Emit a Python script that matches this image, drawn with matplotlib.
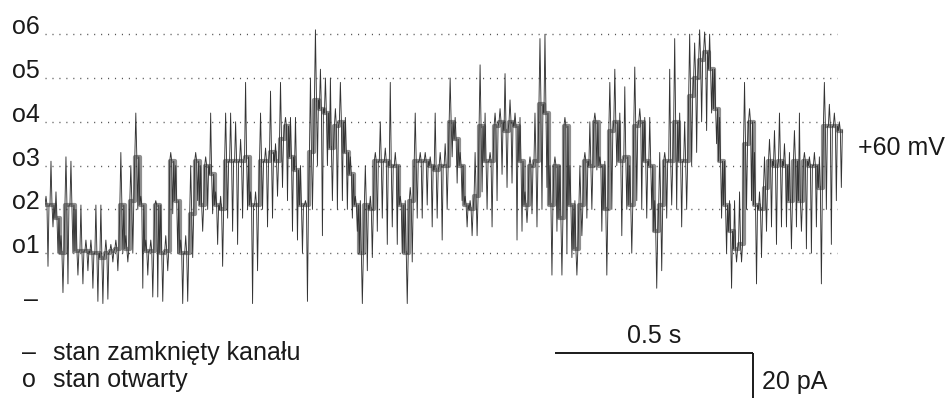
import matplotlib
matplotlib.use("Agg")
import matplotlib.pyplot as plt
import numpy as np

plt.rcParams["font.family"] = ["Liberation Sans", "DejaVu Sans"]

# digitised single-channel trace, one column every DT seconds
# level = dwell level (in unitary openings), hi / lo = excursion envelope in that column
DT = 0.0126
level = [2.1, 2.1, 1.8, 1.0, 2.1, 2.1, 1.05, 1.05, 1.05, 1.0,
         1.0, 0.9, 1.0, 1.05, 1.1, 2.1, 1.1, 2.2, 3.2, 2.1,
         1.05, 1.05, 2.1, 1.0, 1.05, 3.1, 2.2, 1.0, 1.0, 1.9,
         3.1, 2.1, 3.0, 2.8, 2.1, 2.0, 3.1, 3.1, 3.1, 3.1,
         3.2, 2.1, 2.1, 3.1, 3.1, 3.3, 3.1, 3.6, 3.9, 3.2,
         2.9, 2.1, 2.1, 3.3, 4.5, 4.3, 4.2, 3.4, 3.9, 4.0,
         3.3, 2.8, 2.1, 1.0, 2.1, 2.0, 3.1, 3.1, 3.1, 3.0,
         3.0, 2.1, 1.0, 2.2, 3.1, 3.1, 3.1, 3.0, 2.9, 3.0,
         3.0, 4.0, 3.6, 3.0, 2.1, 2.0, 2.3, 3.9, 3.1, 3.1,
         3.9, 4.0, 3.8, 4.0, 3.9, 3.1, 2.1, 3.0, 3.1, 4.4,
         4.2, 2.1, 3.0, 1.8, 3.9, 2.1, 1.1, 2.1, 3.1, 3.0,
         4.0, 3.0, 2.0, 3.8, 4.0, 3.1, 3.2, 2.1, 3.9, 4.0,
         3.1, 3.0, 1.5, 2.1, 3.1, 3.1, 4.0, 3.1, 3.1, 4.6,
         5.0, 5.4, 5.6, 5.2, 4.3, 3.1, 2.1, 1.5, 1.1, 1.2,
         3.5, 4.0, 2.1, 2.0, 2.5, 3.1, 3.0, 3.1, 3.0, 2.2,
         3.1, 2.2, 3.1, 3.0, 3.0, 2.5, 3.9, 3.9, 3.9, 3.8]
hi = [2.3, 3.1, 2.4, 1.4, 3.2, 3.1, 2.0, 2.1, 1.3, 1.3,
      2.1, 2.1, 1.3, 1.2, 1.3, 3.3, 1.4, 3.0, 4.2, 2.3,
      1.3, 1.3, 2.2, 2.1, 1.4, 3.3, 3.0, 1.3, 1.4, 3.0,
      3.3, 3.0, 3.2, 4.2, 2.4, 2.3, 4.2, 4.2, 4.0, 3.6,
      4.9, 2.4, 2.4, 4.2, 3.4, 4.7, 3.5, 4.9, 4.1, 4.1,
      4.1, 3.0, 2.2, 5.0, 6.1, 5.2, 5.0, 5.0, 4.3, 4.9,
      4.1, 3.2, 2.3, 2.2, 3.0, 2.3, 3.3, 4.0, 3.4, 4.9,
      3.3, 2.3, 2.2, 2.5, 4.2, 3.3, 3.3, 3.2, 4.2, 3.3,
      3.5, 5.0, 4.1, 3.3, 2.3, 2.2, 3.3, 5.3, 4.2, 3.3,
      4.2, 4.3, 5.1, 4.5, 4.2, 4.1, 2.4, 3.2, 4.2, 5.9,
      6.0, 3.0, 3.2, 3.0, 4.1, 3.0, 2.2, 3.0, 3.3, 4.0,
      4.2, 3.2, 3.1, 4.9, 5.2, 4.2, 4.8, 3.0, 5.25, 4.3,
      4.1, 4.1, 2.2, 3.3, 3.3, 5.2, 5.9, 4.2, 4.0, 6.0,
      5.8, 6.1, 6.05, 6.0, 5.2, 4.1, 3.1, 2.2, 2.2, 2.4,
      4.9, 4.3, 3.3, 2.4, 3.2, 3.6, 3.8, 4.2, 3.5, 3.3,
      3.8, 4.2, 3.3, 3.2, 3.3, 3.2, 4.9, 4.4, 4.2, 4.0]
lo = [0.7, 1.6, 1.0, 0.1, 0.3, 1.0, 0.5, 0.3, 0.6, 0.2,
      -0.1, -0.15, -0.05, 0.8, 0.6, 1.0, 0.8, 1.0, 2.0, 0.2,
      0.5, 0.0, 0.0, -0.1, 0.6, 1.9, 1.0, -0.15, -0.1, 0.9,
      2.2, 1.5, 2.0, 1.9, 1.2, 0.7, 1.8, 1.5, 1.2, 1.8,
      2.0, -0.15, 0.6, 2.0, 1.6, 1.8, 2.3, 2.5, 2.2, 1.5,
      1.3, 1.0, -0.1, 2.0, 3.0, 1.4, 3.0, 2.2, 2.0, 2.2,
      2.0, 1.8, 1.5, -0.15, 0.6, 0.9, 1.5, 1.8, 1.2, 1.6,
      1.2, 1.0, -0.15, 0.8, 1.8, 1.8, 2.1, 1.6, 1.8, 1.3,
      2.0, 3.2, 2.6, 2.2, 1.6, 1.4, 1.4, 2.4, 2.0, 1.6,
      2.2, 2.8, 2.5, 2.6, 1.3, 1.5, 1.7, 1.9, 1.6, 2.0,
      2.5, 0.5, 1.5, 0.5, 1.0, 0.9, 0.5, 1.4, 1.8, 2.0,
      2.9, 1.5, 0.5, 2.0, 3.0, 1.4, 2.0, 1.0, 2.2, 2.0,
      1.8, 2.0, 0.2, 0.6, 1.8, 2.1, 2.0, 1.6, 2.0, 3.0,
      3.3, 4.0, 3.8, 4.2, 3.5, 1.8, 1.0, 0.2, 0.8, 0.8,
      2.0, 2.2, 0.3, 0.9, 1.5, 1.6, 1.2, 1.6, 1.6, 1.1,
      1.6, 1.5, 1.1, 1.0, 1.6, 0.3, 2.0, 1.2, 2.2, 2.5]

state_labels = ["o1", "o2", "o3", "o4", "o5", "o6"]
closed_label = "\u2013"
voltage_label = "+60 mV"
legend_marks = ["\u2013", "o"]
legend_texts = ["stan zamknięty kanału", "stan otwarty"]
time_bar_s = 0.5
time_bar_label = "0.5 s"
current_bar_levels = 1.03
current_bar_label = "20 pA"

FS = 18
INK = "#1a1a1a"

# trace as a zigzag through each column: level -> hi -> level -> lo -> level
n = len(level)
t = np.arange(n) * DT
xs, ys = [], []
for i in range(n):
    for k, v in enumerate([level[i], hi[i], level[i], lo[i], level[i]]):
        xs.append(t[i] + k * DT / 5)
        ys.append(v)

fig = plt.figure(figsize=(9.5, 3.98), dpi=100)
W, H = 950, 398
y0, y1 = -0.3, 6.2
px_per_level = 43.8
px_per_s = 396
ax_top = 297 - y1 * px_per_level
ax_bot = 297 - y0 * px_per_level
ax = fig.add_axes([45 / W, 1 - ax_bot / H, 800 / W, (ax_bot - ax_top) / H])
ax.set_xlim(0, 800 / px_per_s)
ax.set_ylim(y0, y1)
ax.axis("off")

for j, lab in enumerate(state_labels, start=1):
    ax.plot([0, 2.0], [j, j], color="#555555", lw=1.0, linestyle=(0, (0.8, 4.2)), zorder=1)
    ax.text(-0.012, j, lab, ha="right", va="baseline", fontsize=FS, color=INK)
ax.text(-0.018, -0.07, closed_label, ha="right", va="center", fontsize=FS, color=INK)

# dwell band + thin excursions
ax.plot(t + DT / 2, level, color="#333333", lw=3.0, alpha=0.55, zorder=2,
        drawstyle="steps-mid")
ax.plot(xs, ys, color="#333333", lw=0.65, zorder=3)

ax.text(813 / px_per_s, 3.4, voltage_label, ha="left", va="center", fontsize=FS,
        color=INK, clip_on=False)

# legend text
for k, (m, s) in enumerate(zip(legend_marks, legend_texts)):
    yy = 1 - (353 + 27 * k) / H
    fig.text(22 / W, yy, m, ha="left", va="center", fontsize=FS, color=INK)
    fig.text(53 / W, yy, s, ha="left", va="center", fontsize=FS, color=INK)

# scale bars
bar_y = (297 - 353) / px_per_level
bar_x1 = (753 - 45) / px_per_s
bar_x0 = bar_x1 - time_bar_s
ax.plot([bar_x0, bar_x1], [bar_y, bar_y], color=INK, lw=1.4, clip_on=False,
        solid_capstyle="butt")
ax.plot([bar_x1, bar_x1], [bar_y, bar_y - current_bar_levels], color=INK, lw=1.4,
        clip_on=False, solid_capstyle="butt")
ax.text((bar_x0 + bar_x1) / 2, bar_y + 0.12, time_bar_label, ha="center", va="bottom",
        fontsize=FS, color=INK, clip_on=False)
ax.text(bar_x1 + 0.022, bar_y - 0.66, current_bar_label, ha="left", va="center",
        fontsize=FS, color=INK, clip_on=False)

fig.savefig("out.png", dpi=100)
